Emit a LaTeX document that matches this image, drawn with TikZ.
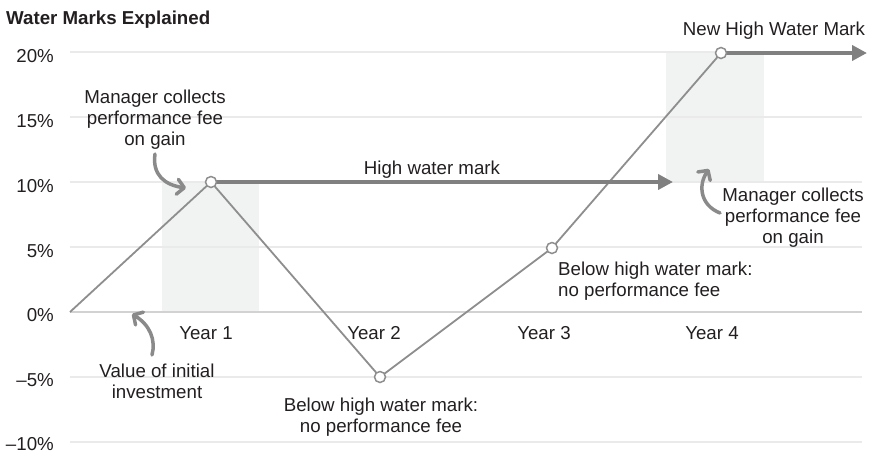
\documentclass[tikz,border=0pt]{standalone}
\usepackage{fontspec}
\setmainfont{Liberation Sans}
\usetikzlibrary{arrows.meta}
\definecolor{gridc}{HTML}{EAEAEA}
\definecolor{axisc}{HTML}{D2D2D2}
\definecolor{shadec}{HTML}{F1F2F2}
\definecolor{datac}{HTML}{8E8E8E}
\definecolor{hwmc}{HTML}{808080}
\definecolor{annc}{HTML}{8A8A8A}
\definecolor{textc}{HTML}{231F20}
\begin{document}
\begin{tikzpicture}[x=1pt,y=-1pt,
  lbl/.style={font=\fontsize{18.7}{21}\selectfont, text=textc, inner sep=0pt, align=center},
  ylbl/.style={lbl, anchor=east},
  gridline/.style={gridc, line width=1.5pt},
  shadebox/.style={fill=shadec, draw=none},
  dataline/.style={datac, line width=1.8pt, line join=round},
  hwm/.style={hwmc, line width=4pt, -{Triangle[length=15pt,width=15pt]}},
  pt/.style={circle, draw=datac, fill=white, line width=1.5pt, minimum size=11pt, inner sep=0pt},
  ann/.style={annc, line width=3.5pt, line cap=round, -{Straight Barb[length=7pt,width=15pt,line cap=round,line join=round]}}
]
\useasboundingbox (0,0) rectangle (870,453);
% shaded bands
\fill[shadebox] (162,182) rectangle (259,312);
\fill[shadebox] (666,52) rectangle (764,182);
% grid
\foreach \yy in {52,117,182,247,377,442} \draw[gridline] (70,\yy) -- (862,\yy);
\draw[axisc, line width=2pt] (70,312) -- (862,312);
% title
\node[lbl, font=\fontsize{18.7}{21}\selectfont\bfseries, anchor=base west] (title) at (6,24) {Water Marks Explained};
% y labels
\node[ylbl] (y20) at (54,56) {20\%};
\node[ylbl] (y15) at (54,121) {15\%};
\node[ylbl] (y10) at (54,186) {10\%};
\node[ylbl] (y5) at (54,251) {5\%};
\node[ylbl] (y0) at (54,315) {0\%};
\node[ylbl] (ym5) at (54,380) {–5\%};
\node[ylbl] (ym10) at (54,444) {–10\%};
% year labels
\node[lbl] (yr1) at (206,333) {Year 1};
\node[lbl] (yr2) at (374,333) {Year 2};
\node[lbl] (yr3) at (544,333) {Year 3};
\node[lbl] (yr4) at (712,333) {Year 4};
% data points
\coordinate (p0) at (70,312);
\coordinate (p1) at (211,182);
\coordinate (p2) at (380,377);
\coordinate (p3) at (552,248);
\coordinate (p4) at (721,53);
\coordinate (h1) at (673,182);
\coordinate (h2) at (867,53);
\draw[dataline] (p0) -- (p1) -- (p2) -- (p3) -- (p4);
\draw[hwm] (p1) -- (h1);
\draw[hwm] (p4) -- (h2);
\node[pt] (c1) at (p1) {};
\node[pt] (c2) at (p2) {};
\node[pt] (c3) at (p3) {};
\node[pt] (c4) at (p4) {};
% labels
\node[lbl] (hwmlbl) at (432,170) {High water mark};
\node[lbl] (newhwm) at (774,31) {New High Water Mark};
\node[lbl] (mgr1) at (155,120) {Manager collects\\performance fee\\on gain};
\node[lbl] (mgr2) at (793,218) {Manager collects\\performance fee\\on gain};
\node[lbl] (init) at (157,381) {Value of initial\\investment};
\node[lbl] (below2) at (381,417) {Below high water mark:\\no performance fee};
\node[lbl, align=left, anchor=west] (below3) at (558,281) {Below high water mark:\\no performance fee};
% annotation arrows
\coordinate (a1s) at (155,154);
\coordinate (a1e) at (186,188);
\coordinate (a2s) at (152,355);
\coordinate (a2e) at (132,314);
\coordinate (a3s) at (720,213);
\coordinate (a3e) at (709,169);
\draw[ann] (a1s) .. controls (152,175) and (165,185) .. (a1e);
\draw[ann] (a2s) .. controls (156,340) and (150,325) .. (a2e);
\draw[ann] (a3s) .. controls (700,205) and (698,185) .. (a3e);
\end{tikzpicture}
\end{document}
